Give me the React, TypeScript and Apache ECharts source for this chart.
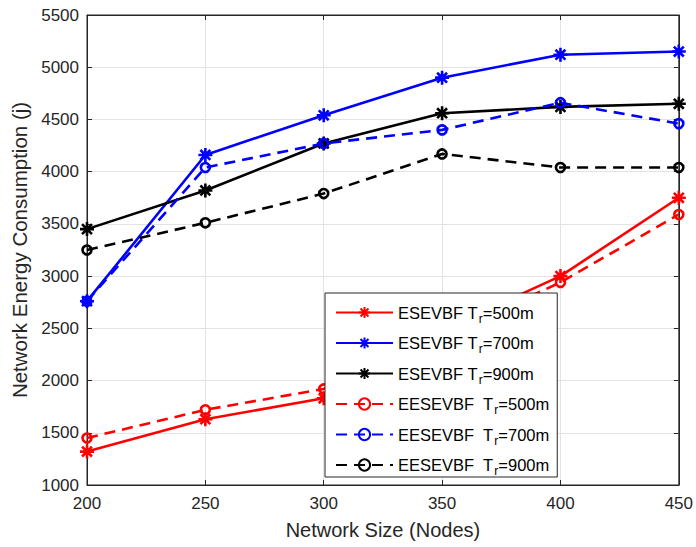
import React, { useEffect, useRef } from "react";
import * as echarts from "echarts";

const xValues = [200, 250, 300, 350, 400, 450];
const esevbf500 = [1320, 1630, 1830, 2480, 3000, 3750];
const esevbf700 = [2760, 4160, 4540, 4900, 5120, 5150];
const esevbf900 = [3450, 3820, 4270, 4560, 4620, 4650];
const eesevbf500 = [1450, 1720, 1920, 2420, 2940, 3590];
const eesevbf700 = [2760, 4040, 4270, 4400, 4660, 4460];
const eesevbf900 = [3250, 3510, 3790, 4170, 4040, 4040];

const seriesNames = [
  "ESEVBF Tr=500m",
  "ESEVBF Tr=700m",
  "ESEVBF Tr=900m",
  "EESEVBF Tr=500m",
  "EESEVBF Tr=700m",
  "EESEVBF Tr=900m",
];
const legendLabels = [
  "ESEVBF T{sub|r}=500m",
  "ESEVBF T{sub|r}=700m",
  "ESEVBF T{sub|r}=900m",
  "EESEVBF  T{sub|r}=500m",
  "EESEVBF  T{sub|r}=700m",
  "EESEVBF  T{sub|r}=900m",
];

const STAR = "path://M0,-10L0,10M-10,0L10,0M-7.07,-7.07L7.07,7.07M-7.07,7.07L7.07,-7.07";

export default function App() {
  const ref = useRef<HTMLDivElement>(null);
  useEffect(() => {
    if (!ref.current) return;
    const chart = echarts.init(ref.current, undefined, { renderer: "svg" });
    const font = "'Liberation Sans', Arial, sans-serif";
    const axisColor = "#262626";
    const mk = (name: string, data: number[], color: string, dashed: boolean) => ({
      name,
      type: "line",
      data: xValues.map((x, i) => [x, data[i]]),
      symbol: dashed ? "circle" : STAR,
      symbolSize: dashed ? 9 : 14,
      showAllSymbol: true,
      lineStyle: { color, width: 2.6, type: dashed ? [11, 7] : "solid" },
      itemStyle: { color: "none", borderColor: color, borderWidth: 2.6 },
      emphasis: { disabled: true },
      z: dashed ? 3 : 2,
    });
    chart.setOption({
      animation: false,
      textStyle: { fontFamily: font },
      grid: {
        left: 87,
        right: 6,
        top: 15,
        bottom: 62,
        show: true,
        borderColor: axisColor,
        borderWidth: 1,
        backgroundColor: "#fff",
      },
      legend: {
        orient: "vertical",
        left: 325,
        top: 293,
        padding: [11, 8, 0, 10],
        itemWidth: 57,
        itemHeight: 14,
        itemGap: 10,
        backgroundColor: "#fff",
        borderColor: axisColor,
        borderWidth: 1,
        data: seriesNames,
        formatter: (n: string) => legendLabels[seriesNames.indexOf(n)],
        textStyle: {
          fontSize: 16.5,
          color: "#000",
          fontFamily: font,
          rich: {
            sub: { fontSize: 12, padding: [12, 0, 0, 1], color: "#000", fontFamily: font },
          },
        },
      },
      xAxis: [
        {
          type: "value",
          min: 200,
          max: 450,
          interval: 50,
          name: "Network Size (Nodes)",
          nameLocation: "middle",
          nameGap: 35,
          nameTextStyle: { fontSize: 20, color: axisColor, fontFamily: font },
          axisLine: { show: true, lineStyle: { color: axisColor } },
          axisTick: { show: true, inside: true, length: 5, lineStyle: { color: axisColor } },
          axisLabel: { fontSize: 17, color: axisColor, margin: 10, fontFamily: font },
          splitLine: { show: true, lineStyle: { color: "#e3e3e3", width: 1 } },
        },
        {
          type: "value",
          position: "top",
          min: 200,
          max: 450,
          interval: 50,
          axisLine: { show: true, lineStyle: { color: axisColor } },
          axisTick: { show: true, inside: true, length: 5, lineStyle: { color: axisColor } },
          axisLabel: { show: false },
          splitLine: { show: false },
        },
      ],
      yAxis: [
        {
          type: "value",
          min: 1000,
          max: 5500,
          interval: 500,
          name: "Network Energy Consumption (j)",
          nameLocation: "middle",
          nameGap: 56,
          nameTextStyle: { fontSize: 20.5, color: axisColor, fontFamily: font },
          axisLine: { show: true, lineStyle: { color: axisColor } },
          axisTick: { show: true, inside: true, length: 5, lineStyle: { color: axisColor } },
          axisLabel: {
            fontSize: 17,
            color: axisColor,
            margin: 8,
            fontFamily: font,
            formatter: (v: number) => String(v),
          },
          splitLine: { show: true, lineStyle: { color: "#e3e3e3", width: 1 } },
        },
        {
          type: "value",
          position: "right",
          min: 1000,
          max: 5500,
          interval: 500,
          axisLine: { show: true, lineStyle: { color: axisColor } },
          axisTick: { show: true, inside: true, length: 5, lineStyle: { color: axisColor } },
          axisLabel: { show: false },
          splitLine: { show: false },
        },
      ],
      series: [
        mk(seriesNames[0], esevbf500, "#ff0000", false),
        mk(seriesNames[1], esevbf700, "#0000ff", false),
        mk(seriesNames[2], esevbf900, "#000000", false),
        mk(seriesNames[3], eesevbf500, "#ff0000", true),
        mk(seriesNames[4], eesevbf700, "#0000ff", true),
        mk(seriesNames[5], eesevbf900, "#000000", true),
      ],
    });
    return () => chart.dispose();
  }, []);
  return <div ref={ref} style={{ width: 696, height: 547, position: "absolute", left: 0, top: 0 }} />;
}
